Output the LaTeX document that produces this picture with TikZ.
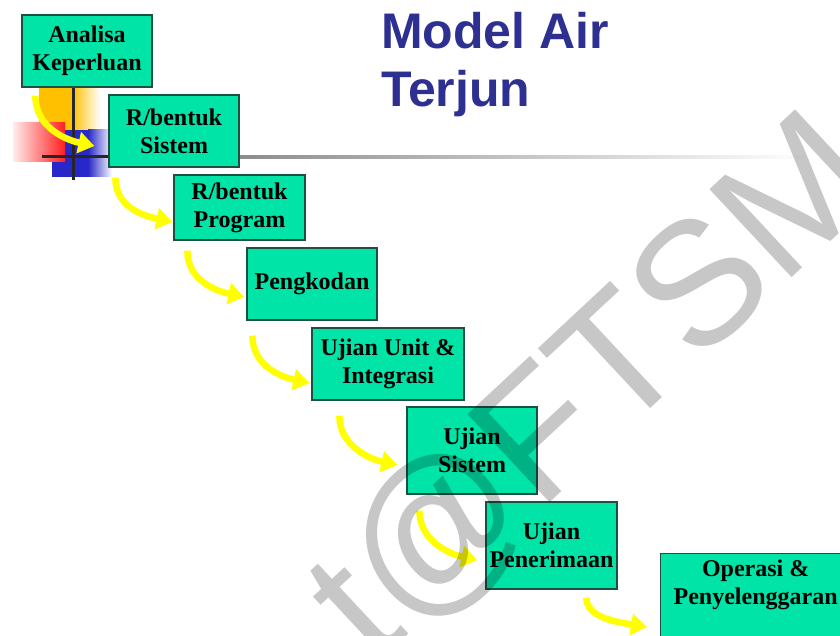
\documentclass[tikz,border=0pt]{standalone}
\usepackage{fontspec}
\setmainfont{Liberation Serif}
\newfontfamily\titlefont{Liberation Sans}
\usetikzlibrary{arrows.meta,calc}
\definecolor{boxfill}{RGB}{0,228,168}
\definecolor{boxline}{RGB}{30,80,65}
\definecolor{titleblue}{RGB}{45,48,145}
\definecolor{arrowyellow}{RGB}{255,255,0}
\definecolor{decoorange}{RGB}{255,192,0}
\definecolor{decored}{RGB}{255,30,30}
\definecolor{decoblue}{RGB}{40,40,200}
\begin{document}
\begin{tikzpicture}[x=1pt,y=-1pt,
  stage/.style={draw=boxline, line width=1.3pt, fill=boxfill, align=center,
    font=\fontsize{24}{28}\selectfont\bfseries, inner sep=0pt},
  flow/.style={draw=arrowyellow, line width=6.5pt, -{Triangle[length=16pt,width=21pt]}},
  deco/.style={line width=3pt, black!85},
]
\clip (0,0) rectangle (840,636);
\fill[white] (0,0) rectangle (840,636);
% decorative squares
\fill[decoorange] (39,88) rectangle (72,135);
\shade[left color=decoorange, right color=white] (72,88) rectangle (100,135);
\fill[decoblue] (52,130) rectangle (88,177);
\shade[left color=decoblue, right color=white] (88,130) rectangle (112,177);
\shade[left color=decored!8!white, right color=decored] (13,123) rectangle (65,162);
% lines
\shade[left color=black!55, right color=white] (109,155.5) rectangle (810,158.5);
\draw[deco] (42,157) -- (109,157);
\draw[deco] (73,87) -- (73,180);
% stages
\node[stage, minimum width=130pt, minimum height=72pt] (A) at (87,51) {Analisa\\Keperluan};
\node[stage, minimum width=130pt, minimum height=72pt] (B) at (174,131) {R/bentuk\\Sistem};
\node[stage, minimum width=131pt, minimum height=65pt] (C) at (239.5,207.5) {R/bentuk\\Program};
\node[stage, minimum width=130pt, minimum height=72pt] (D) at (312,284) {Pengkodan};
\node[stage, minimum width=152pt, minimum height=72pt] (E) at (388,364) {Ujian Unit \&\\Integrasi};
\node[stage, minimum width=130pt, minimum height=87pt] (F) at (472,450.5) {Ujian\\Sistem};
\node[stage, minimum width=131pt, minimum height=87pt] (G) at (551.5,545.5) {Ujian\\Penerimaan};
\node[stage, minimum width=190pt, minimum height=100pt, anchor=north west] (H) at (660,553) {};
\node[font=\fontsize{24}{28}\selectfont\bfseries, align=center, inner sep=0pt] (Ht) at ($(H.north)+(0,32)$) {Operasi \&\\Penyelenggaran};
% title
\node[font=\titlefont\fontsize{50}{58}\selectfont\bfseries, text=titleblue, align=left,
  inner sep=0pt, anchor=north west] (T) at (381,12) {Model Air\\Terjun};
% arrows
\draw[flow] ($(A.south west)+(14,8)$) .. controls +(0,32) and +(-28,-6) .. ($(B.west)+(-14,15)$);
\draw[flow] ($(B.south west)+(7,10)$) .. controls +(0,30) and +(-28,-6) .. ($(C.west)+(-1,14.5)$);
\draw[flow] ($(C.south west)+(14,10)$) .. controls +(0,30) and +(-28,-6) .. ($(D.west)+(-2,13)$);
\draw[flow] ($(D.south west)+(6,15)$) .. controls +(0,30) and +(-28,-6) .. ($(E.west)+(-2,19)$);
\draw[flow] ($(E.south west)+(28,15)$) .. controls +(0,30) and +(-28,-6) .. ($(F.west)+(-9,14.5)$);
\draw[flow] ($(F.south west)+(13,16)$) .. controls +(0,30) and +(-28,-6) .. ($(G.west)+(-8,14.5)$);
\draw[flow] ($(G.south west)+(101,8)$) .. controls +(0,20) and +(-30,-5) .. ($(H.north west)+(-13,74)$);
% watermark
\node[font=\titlefont\fontsize{175}{175}\selectfont, text=black, text opacity=0.22,
  rotate=43, anchor=base west, inner sep=0pt] (W) at (374,667) {t@FTSM};
\end{tikzpicture}
\end{document}
